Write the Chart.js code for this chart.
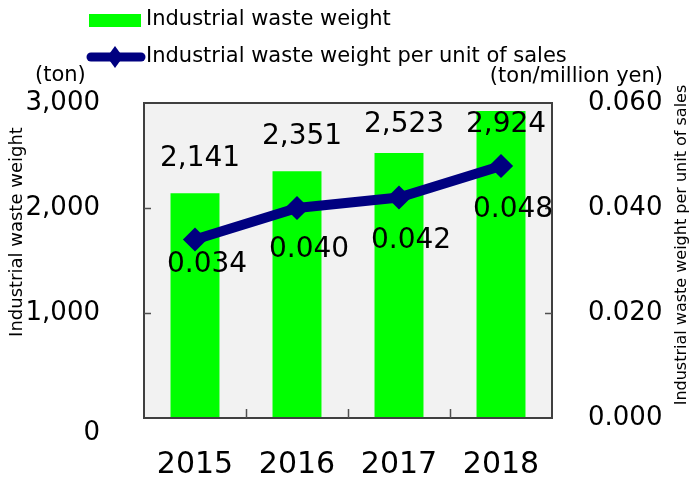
<!DOCTYPE html>
<html>
<head>
<meta charset="utf-8">
<script src="https://cdn.jsdelivr.net/npm/chart.js@4.4.1/dist/chart.umd.min.js"></script>
<style>
html, body { margin: 0; padding: 0; background: #fff; }
#wrap { width: 691px; height: 480px; position: relative; }
</style>
</head>
<body>
<div id="wrap"><canvas id="myChartWaste"></canvas></div>
<script>
var years = ['2015', '2016', '2017', '2018'];
var wasteWeight = [2141, 2351, 2523, 2924];
var wastePerSales = [0.034, 0.040, 0.042, 0.048];
var weightLabel = 'Industrial waste weight';
var perSalesLabel = 'Industrial waste weight per unit of sales';
var leftUnit = '(ton)';
var rightUnit = '(ton/million yen)';

var FONT = "'DejaVu Sans', Verdana, sans-serif";
Chart.defaults.font.family = FONT;
Chart.defaults.color = '#000';

function withCommas(v) {
    return String(v).replace(/\B(?=(\d{3})+(?!\d))/g, ',');
}

// plot background, frame, inner ticks, value labels, legend and axis titles
var extras = {
    id: 'extras',
    beforeDraw: function(chart) {
        var a = chart.chartArea, c = chart.ctx;
        c.save();
        c.fillStyle = '#f2f2f2';
        c.fillRect(a.left, a.top, a.right - a.left, a.bottom - a.top);
        c.restore();
    },
    afterDatasetsDraw: function(chart) {
        var a = chart.chartArea, c = chart.ctx;
        var x = chart.scales.x, y = chart.scales.y;
        c.save();
        c.strokeStyle = '#404040';
        c.lineWidth = 2;
        c.strokeRect(a.left, a.top, a.right - a.left, a.bottom - a.top);

        c.lineWidth = 1.5;
        c.strokeStyle = '#505050';
        c.beginPath();
        for (var i = 1; i < years.length; i++) {
            var px = Math.round((x.getPixelForTick(i - 1) + x.getPixelForTick(i)) / 2) + 0.5;
            c.moveTo(px, a.bottom);
            c.lineTo(px, a.bottom - 9);
        }
        y.ticks.forEach(function(t) {
            if (t.value > y.min && t.value < y.max) {
                var py = Math.round(y.getPixelForValue(t.value)) + 0.5;
                c.moveTo(a.left, py); c.lineTo(a.left + 7, py);
                c.moveTo(a.right, py); c.lineTo(a.right - 7, py);
            }
        });
        c.stroke();

        // value labels
        c.font = '28px ' + FONT;
        c.fillStyle = '#000';
        c.textAlign = 'center';
        c.textBaseline = 'middle';
        var bars = chart.getDatasetMeta(0).data;
        bars.forEach(function(b, i) {
            var ly = Math.max(b.y - 34, a.top + 22);
            c.fillText(withCommas(wasteWeight[i]), b.x + 5, ly);
        });
        var drop = [25, 42, 43, 44];
        var pts = chart.getDatasetMeta(1).data;
        pts.forEach(function(p, i) {
            c.fillText(wastePerSales[i].toFixed(3), p.x + 12, p.y + drop[i]);
        });
        c.restore();
    },
    afterDraw: function(chart) {
        var c = chart.ctx;
        var ds = chart.data.datasets;
        c.save();
        // legend
        c.fillStyle = ds[0].backgroundColor;
        c.fillRect(89, 14, 52, 13);
        c.strokeStyle = ds[1].borderColor;
        c.lineWidth = 9;
        c.lineCap = 'round';
        c.beginPath();
        c.moveTo(91, 57); c.lineTo(141, 57);
        c.stroke();
        c.fillStyle = ds[1].borderColor;
        c.beginPath();
        c.moveTo(115, 46); c.lineTo(123, 57); c.lineTo(115, 68); c.lineTo(107, 57);
        c.closePath();
        c.fill();

        c.fillStyle = '#000';
        c.textBaseline = 'middle';
        c.textAlign = 'left';
        c.font = '21px ' + FONT;
        c.fillText(ds[0].label, 146, 20);
        c.fillText(ds[1].label, 146, 57);

        // units
        c.fillText(leftUnit, 35, 76);
        c.textAlign = 'right';
        c.fillText(rightUnit, 663, 77);

        // axis titles
        c.textAlign = 'center';
        c.save();
        c.translate(17, 232);
        c.rotate(-Math.PI / 2);
        c.font = '18px ' + FONT;
        c.fillText(weightLabel, 0, 0);
        c.restore();
        c.save();
        c.translate(682, 245);
        c.rotate(-Math.PI / 2);
        c.font = '16px ' + FONT;
        c.fillText(perSalesLabel, 0, 0);
        c.restore();
        c.restore();
    }
};

var ctx = document.getElementById('myChartWaste').getContext('2d');
var myChartWaste = new Chart(ctx, {
    type: 'bar',
    data: {
        labels: years,
        datasets: [{
            label: weightLabel,
            data: wasteWeight,
            yAxisID: 'y',
            order: 1,
            backgroundColor: '#00ff00',
            borderWidth: 0,
            categoryPercentage: 1,
            barPercentage: 0.48
        }, {
            type: 'line',
            label: perSalesLabel,
            data: wastePerSales,
            yAxisID: 'y1',
            order: 0,
            borderColor: '#000080',
            borderWidth: 10,
            borderJoinStyle: 'round',
            borderCapStyle: 'round',
            tension: 0,
            pointStyle: 'rectRot',
            pointRadius: 10,
            pointBorderWidth: 3,
            pointBackgroundColor: '#000080',
            pointBorderColor: '#000080'
        }]
    },
    options: {
        responsive: true,
        maintainAspectRatio: false,
        animation: false,
        layout: { padding: { top: 103, left: 0, right: 0, bottom: 0 } },
        plugins: {
            legend: { display: false },
            tooltip: { enabled: false }
        },
        scales: {
            x: {
                grid: { display: false },
                border: { display: false },
                ticks: { font: { size: 30 }, padding: 21, maxRotation: 0 },
                afterFit: function(s) { s.height = 62; }
            },
            y: {
                position: 'left',
                min: 0,
                max: 3000,
                grid: { display: false },
                border: { display: false },
                ticks: {
                    stepSize: 1000,
                    padding: 36,
                    font: { size: 26 },
                    callback: function(v) { return v === 0 ? ['', '0'] : withCommas(v); }
                },
                afterFit: function(s) {
                    s.width = 144;
                    s.paddingTop = 0;
                    s.paddingBottom = 0;
                }
            },
            y1: {
                position: 'right',
                min: 0,
                max: 0.06,
                grid: { display: false },
                border: { display: false },
                ticks: {
                    stepSize: 0.02,
                    padding: 28,
                    font: { size: 26 },
                    callback: function(v) { return v.toFixed(3); }
                },
                afterFit: function(s) { s.width = 139; }
            }
        }
    },
    plugins: [extras]
});
</script>
</body>
</html>
